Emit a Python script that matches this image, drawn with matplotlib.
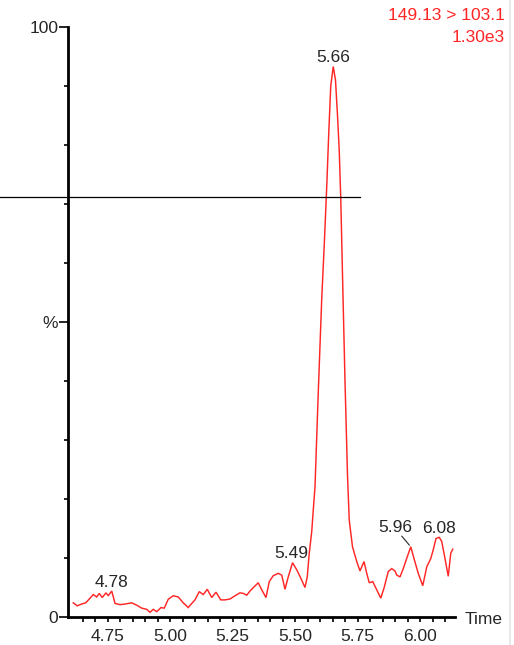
import matplotlib
matplotlib.use("Agg")
import matplotlib.pyplot as plt
from matplotlib.lines import Line2D
import numpy as np

plt.rcParams['font.family'] = ['Liberation Sans', 'DejaVu Sans']

# ---- data ----
times = [4.613, 4.629, 4.647, 4.663, 4.676, 4.693, 4.707, 4.717, 4.729, 4.744,
         4.753, 4.767, 4.780, 4.800, 4.820, 4.847, 4.867, 4.887, 4.907, 4.920,
         4.933, 4.947, 4.964, 4.977, 4.993, 5.013, 5.033, 5.053, 5.073, 5.087,
         5.100, 5.117, 5.133, 5.149, 5.167, 5.184, 5.203, 5.220, 5.240, 5.260,
         5.280, 5.293, 5.307, 5.320, 5.336, 5.353, 5.367, 5.384, 5.397, 5.413,
         5.433, 5.447, 5.460, 5.473, 5.490, 5.507, 5.523, 5.540, 5.549, 5.557,
         5.567, 5.573, 5.580, 5.593, 5.607, 5.618, 5.627, 5.635, 5.643, 5.653,
         5.662, 5.670, 5.677, 5.683, 5.690, 5.700, 5.710, 5.717, 5.730, 5.747,
         5.760, 5.776, 5.787, 5.797, 5.811, 5.827, 5.843, 5.856, 5.873, 5.887,
         5.900, 5.907, 5.920, 5.933, 5.949, 5.963, 5.976, 5.993, 6.011, 6.027,
         6.043, 6.053, 6.064, 6.077, 6.087, 6.100, 6.113, 6.123, 6.131]
intensity = [2.4, 1.9, 2.2, 2.4, 3.0, 3.8, 3.4, 4.0, 3.3, 4.1,
             3.6, 4.4, 2.3, 2.1, 2.2, 2.4, 2.0, 1.5, 1.3, 0.8,
             1.3, 0.9, 1.6, 1.5, 3.0, 3.6, 3.4, 2.4, 1.6, 2.3,
             2.9, 4.3, 3.8, 4.7, 3.3, 4.2, 2.9, 2.9, 3.05, 3.6,
             4.1, 4.0, 3.7, 4.4, 5.1, 5.8, 4.6, 3.3, 6.0, 7.0,
             7.4, 7.1, 4.7, 6.8, 9.2, 8.0, 6.6, 5.0, 6.8, 10.8,
             14.5, 18.1, 22.0, 38.0, 54.0, 64.0, 73.0, 82.0, 90.0, 93.3,
             91.0, 85.0, 79.0, 71.0, 58.0, 40.0, 24.0, 16.4, 11.9, 9.4,
             7.8, 9.4, 7.4, 5.8, 6.0, 4.6, 3.2, 4.9, 7.7, 8.2,
             7.8, 7.1, 6.8, 8.2, 10.2, 11.9, 9.9, 7.4, 5.3, 8.5,
             9.9, 11.4, 13.3, 13.5, 12.8, 9.9, 6.9, 10.8, 11.5]

peak_labels = ["4.78", "5.49", "5.66", "5.96", "6.08"]
y_ticks = [0, 50, 100]
y_ticklabels = ["0", "%", "100"]
x_ticks = [4.75, 5.00, 5.25, 5.50, 5.75, 6.00]
x_ticklabels = ["4.75", "5.00", "5.25", "5.50", "5.75", "6.00"]
marker_level = 71.2          # horizontal cursor line (% level)
marker_span = (4.32, 5.76)   # time span of the cursor line
header = ["149.13 > 103.1", "1.30e3"]

# ---- figure ----
W, H = 514, 645
FS = 12.5
fig = plt.figure(figsize=(W / 100, H / 100), dpi=100)
ax = fig.add_axes([68 / W, 28 / H, (455 - 68) / W, (617 - 27) / H])

t = np.array(times)
y = np.array(intensity)
ax.plot(t, y, color='#ff2626', lw=1.05, solid_joinstyle='miter')

ax.set_xlim(4.592, 6.14)
ax.set_ylim(0, 100)

for s in ['top', 'right']:
    ax.spines[s].set_visible(False)
for s in ['left', 'bottom']:
    ax.spines[s].set_linewidth(2.0)
    ax.spines[s].set_color('black')

txt_col = '#262626'
ax.set_yticks(y_ticks)
ax.set_yticklabels(y_ticklabels)
ax.set_yticks([v for v in range(10, 100, 10) if v != 50], minor=True)
ax.tick_params(axis='y', which='major', length=6.5, width=1.2, pad=0.5,
               labelsize=FS, labelcolor=txt_col, color='black')
ax.tick_params(axis='y', which='minor', length=3, width=1.2, color='black')

ax.set_xticks(x_ticks)
ax.set_xticklabels(x_ticklabels)
ax.set_xticks(np.round(np.arange(4.65, 6.11, 0.05), 2), minor=True)
ax.tick_params(axis='x', which='both', length=3.5, width=1.2, direction='out',
               color='black')
ax.tick_params(axis='x', which='major', pad=5, labelsize=FS, labelcolor=txt_col)

# cursor line
ax.plot(list(marker_span), [marker_level, marker_level], color='black',
        lw=0.9, clip_on=False)

# peak labels
offsets = {"4.78": (0, 3), "5.49": (-1, 3.5), "5.66": (0, 3),
           "5.96": (-11.3, 10.6), "6.08": (-0.5, 3)}
for lab in peak_labels:
    tv = float(lab)
    mask = np.abs(t - tv) <= 0.02
    idx = np.where(mask)[0][np.argmax(y[mask])]
    px, py = t[idx], y[idx]
    ax.annotate(lab, xy=(px, py), xytext=offsets[lab], textcoords='offset points',
                ha='center', va='baseline', fontsize=FS, color=txt_col,
                annotation_clip=False)
    if lab == "5.96":
        ax.annotate("", xy=(px, py), xytext=(-6.5, 7.7), textcoords='offset points',
                    arrowprops=dict(arrowstyle='-', shrinkA=0, shrinkB=1.5,
                                    lw=0.8, color=txt_col))

# header (top-right)
fig.text(505 / W, 1 - 16 / H, header[0], ha='right', va='center',
         fontsize=FS, color='#ff2626')
fig.text(505 / W, 1 - 37.5 / H, header[1], ha='right', va='center',
         fontsize=FS, color='#ff2626')

# axis title
fig.text(465 / W, 1 - 619 / H, "Time", ha='left', va='center',
         fontsize=FS, color=txt_col)

# faint right border
fig.add_artist(Line2D([509.5 / W, 509.5 / W], [0, 1], color='#e4e4e4', lw=1.2))

fig.savefig("out.png", dpi=100)
